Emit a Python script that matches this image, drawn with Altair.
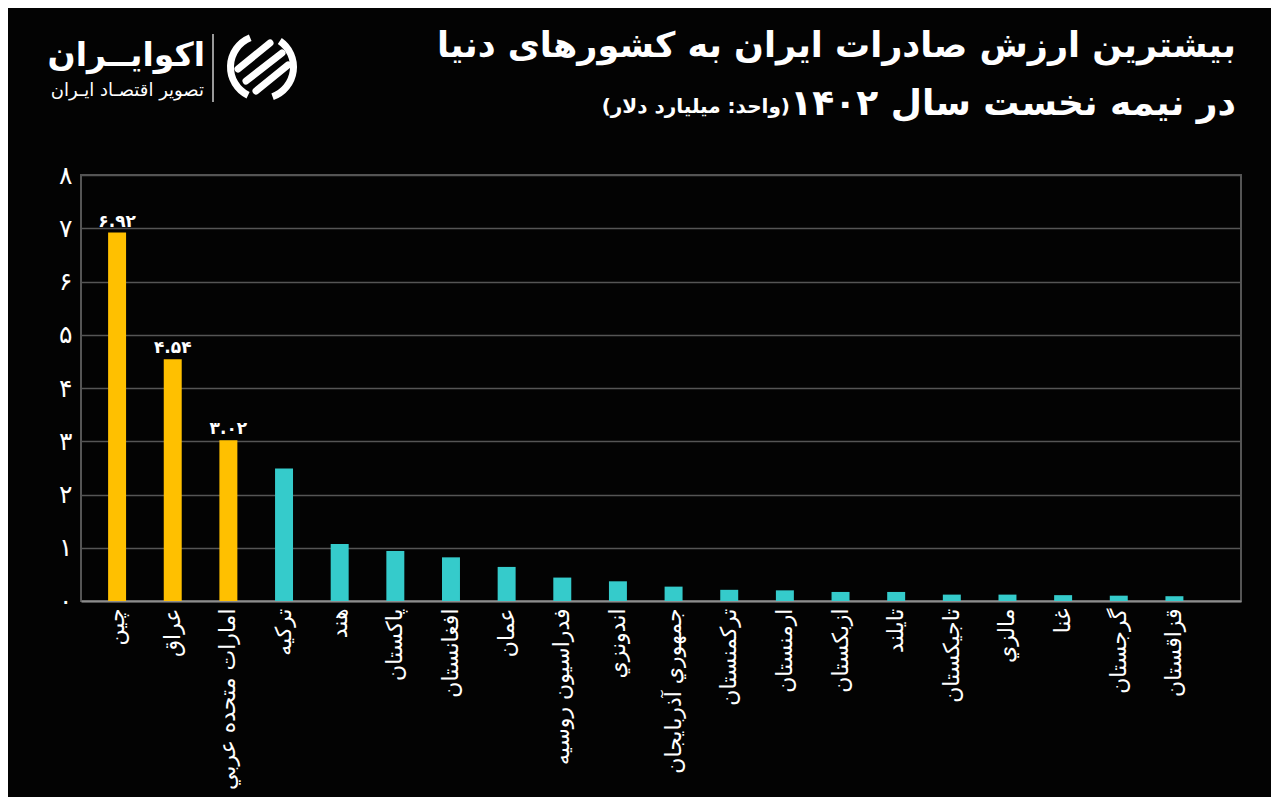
import json
import altair as alt
import pandas as pd

# ---------------- data ----------------
countries = [
    "چین", "عراق", "امارات متحده عربي", "ترکیه", "هند", "پاکستان",
    "افغانستان", "عمان", "فدراسیون روسیه", "اندونزي", "جمهوري آذربایجان",
    "ترکمنستان", "ارمنستان", "ازبکستان", "تایلند", "تاجیکستان",
    "مالزي", "غنا", "گرجستان", "قزاقستان",
]
values = [
    6.92, 4.54, 3.02, 2.49, 1.07, 0.94, 0.82, 0.64, 0.44, 0.37,
    0.27, 0.21, 0.20, 0.17, 0.17, 0.12, 0.12, 0.11, 0.10, 0.09,
]
value_labels = ["۶.۹۲", "۴.۵۴", "۳.۰۲"] + [""] * 17
groups = ["top"] * 3 + ["other"] * 17
y_ticks = [0, 1, 2, 3, 4, 5, 6, 7, 8]
fa_digits = ["۰", "۱", "۲", "۳", "۴", "۵", "۶", "۷", "۸"]

title_line1 = "بیشترین ارزش صادرات ایران به کشورهای دنیا"
title_line2 = "در نیمه نخست سال ۱۴۰۲"
unit_text = "\u200f(واحد: میلیارد دلار)\u200f"
logo_name = "اکوایــران"
logo_tag = "تصویر اقتصـاد ایـران"

df = pd.DataFrame({"country": countries, "value": values,
                   "label": value_labels, "group": groups})

FONT = "DejaVu Sans"
BG = "#030303"
# plot origin on the page (8px margin + padding)
PL, PT = 73, 167
OX, OY = 8 + PL, 8 + PT
W, H = 1160, 426

x_enc = alt.X(
    "country:N", sort=countries,
    scale=alt.Scale(paddingInner=0.677, paddingOuter=0.761, align=0.32),
    axis=alt.Axis(title=None, labelAngle=-90, labelFontSize=22,
                  labelColor="white", labelFont=FONT, labelPadding=7,
                  ticks=False, domain=True, domainColor="#8c8c8c",
                  domainWidth=2, labelLimit=400, grid=False),
)
y_enc = alt.Y(
    "value:Q", scale=alt.Scale(domain=[0, 8], nice=False, zero=True),
    axis=alt.Axis(title=None, values=y_ticks,
                  labelExpr=json.dumps(fa_digits, ensure_ascii=False) + "[datum.value]",
                  grid=True, gridColor="#555555", gridWidth=1.5,
                  ticks=False, domain=False, labelFontSize=25,
                  labelColor="white", labelFont=FONT, labelPadding=9),
)

base = alt.Chart(df)
bars = base.mark_bar().encode(
    x=x_enc, y=y_enc,
    color=alt.Color("group:N",
                    scale=alt.Scale(domain=["top", "other"],
                                    range=["#FFC000", "#35CBCB"]),
                    legend=None),
)
labels = base.mark_text(baseline="bottom", dy=-2, fontSize=17,
                        fontWeight="bold", color="white", font=FONT).encode(
    x=x_enc, y=y_enc, text="label:N")

one = alt.Data(values=[{}])


def txt(text, px, py, size, weight="bold", align="right"):
    return alt.Chart(one).mark_text(
        text=text, align=align, baseline="alphabetic", fontSize=size,
        fontWeight=weight, color="white", font=FONT,
    ).encode(x=alt.value(px - OX), y=alt.value(py - OY))


t1 = txt(title_line1, 1236, 57, 35)
t2 = txt(title_line2, 1236, 115, 36)
t3 = txt(unit_text, 790, 113, 20)
l1 = txt(logo_name, 205, 66, 33)
l2 = txt(logo_tag, 204, 96, 18, weight="normal")

sep = alt.Chart(one).mark_rule(color="#cccccc", strokeWidth=1.5).encode(
    x=alt.value(213 - OX), x2=alt.value(213 - OX),
    y=alt.value(34 - OY), y2=alt.value(102 - OY))

cx, cy = 262 - OX, 67 - OY
ring_a = alt.Chart(one).mark_arc(innerRadius=28, outerRadius=35, color="white").encode(
    x=alt.value(cx), y=alt.value(cy), theta=alt.value(3.6), theta2=alt.value(5.9))
ring_b = alt.Chart(one).mark_arc(innerRadius=28, outerRadius=35, color="white").encode(
    x=alt.value(cx), y=alt.value(cy), theta=alt.value(0.6), theta2=alt.value(2.8))
s1 = alt.Chart(one).mark_rule(color="white", strokeWidth=7, strokeCap="round").encode(
    x=alt.value(cx - 24), y=alt.value(cy + 2), x2=alt.value(cx + 8), y2=alt.value(cy - 24))
s2 = alt.Chart(one).mark_rule(color="white", strokeWidth=7, strokeCap="round").encode(
    x=alt.value(cx - 16), y=alt.value(cy + 14), x2=alt.value(cx + 20), y2=alt.value(cy - 14))
s3 = alt.Chart(one).mark_rule(color="white", strokeWidth=7, strokeCap="round").encode(
    x=alt.value(cx - 6), y=alt.value(cy + 24), x2=alt.value(cx + 26), y2=alt.value(cy - 2))

chart = alt.layer(
    bars, labels, t1, t2, t3, l1, l2, sep, ring_a, ring_b, s1, s2, s3
).properties(
    width=W, height=H,
    padding={"left": PL, "top": PT, "right": 30, "bottom": 196},
    autosize=alt.AutoSizeParams(type="none"),
    background=BG,
).configure_view(
    stroke="#555555", strokeWidth=2,
)

chart.save("out.html", embed_options={"renderer": "svg", "actions": False})
